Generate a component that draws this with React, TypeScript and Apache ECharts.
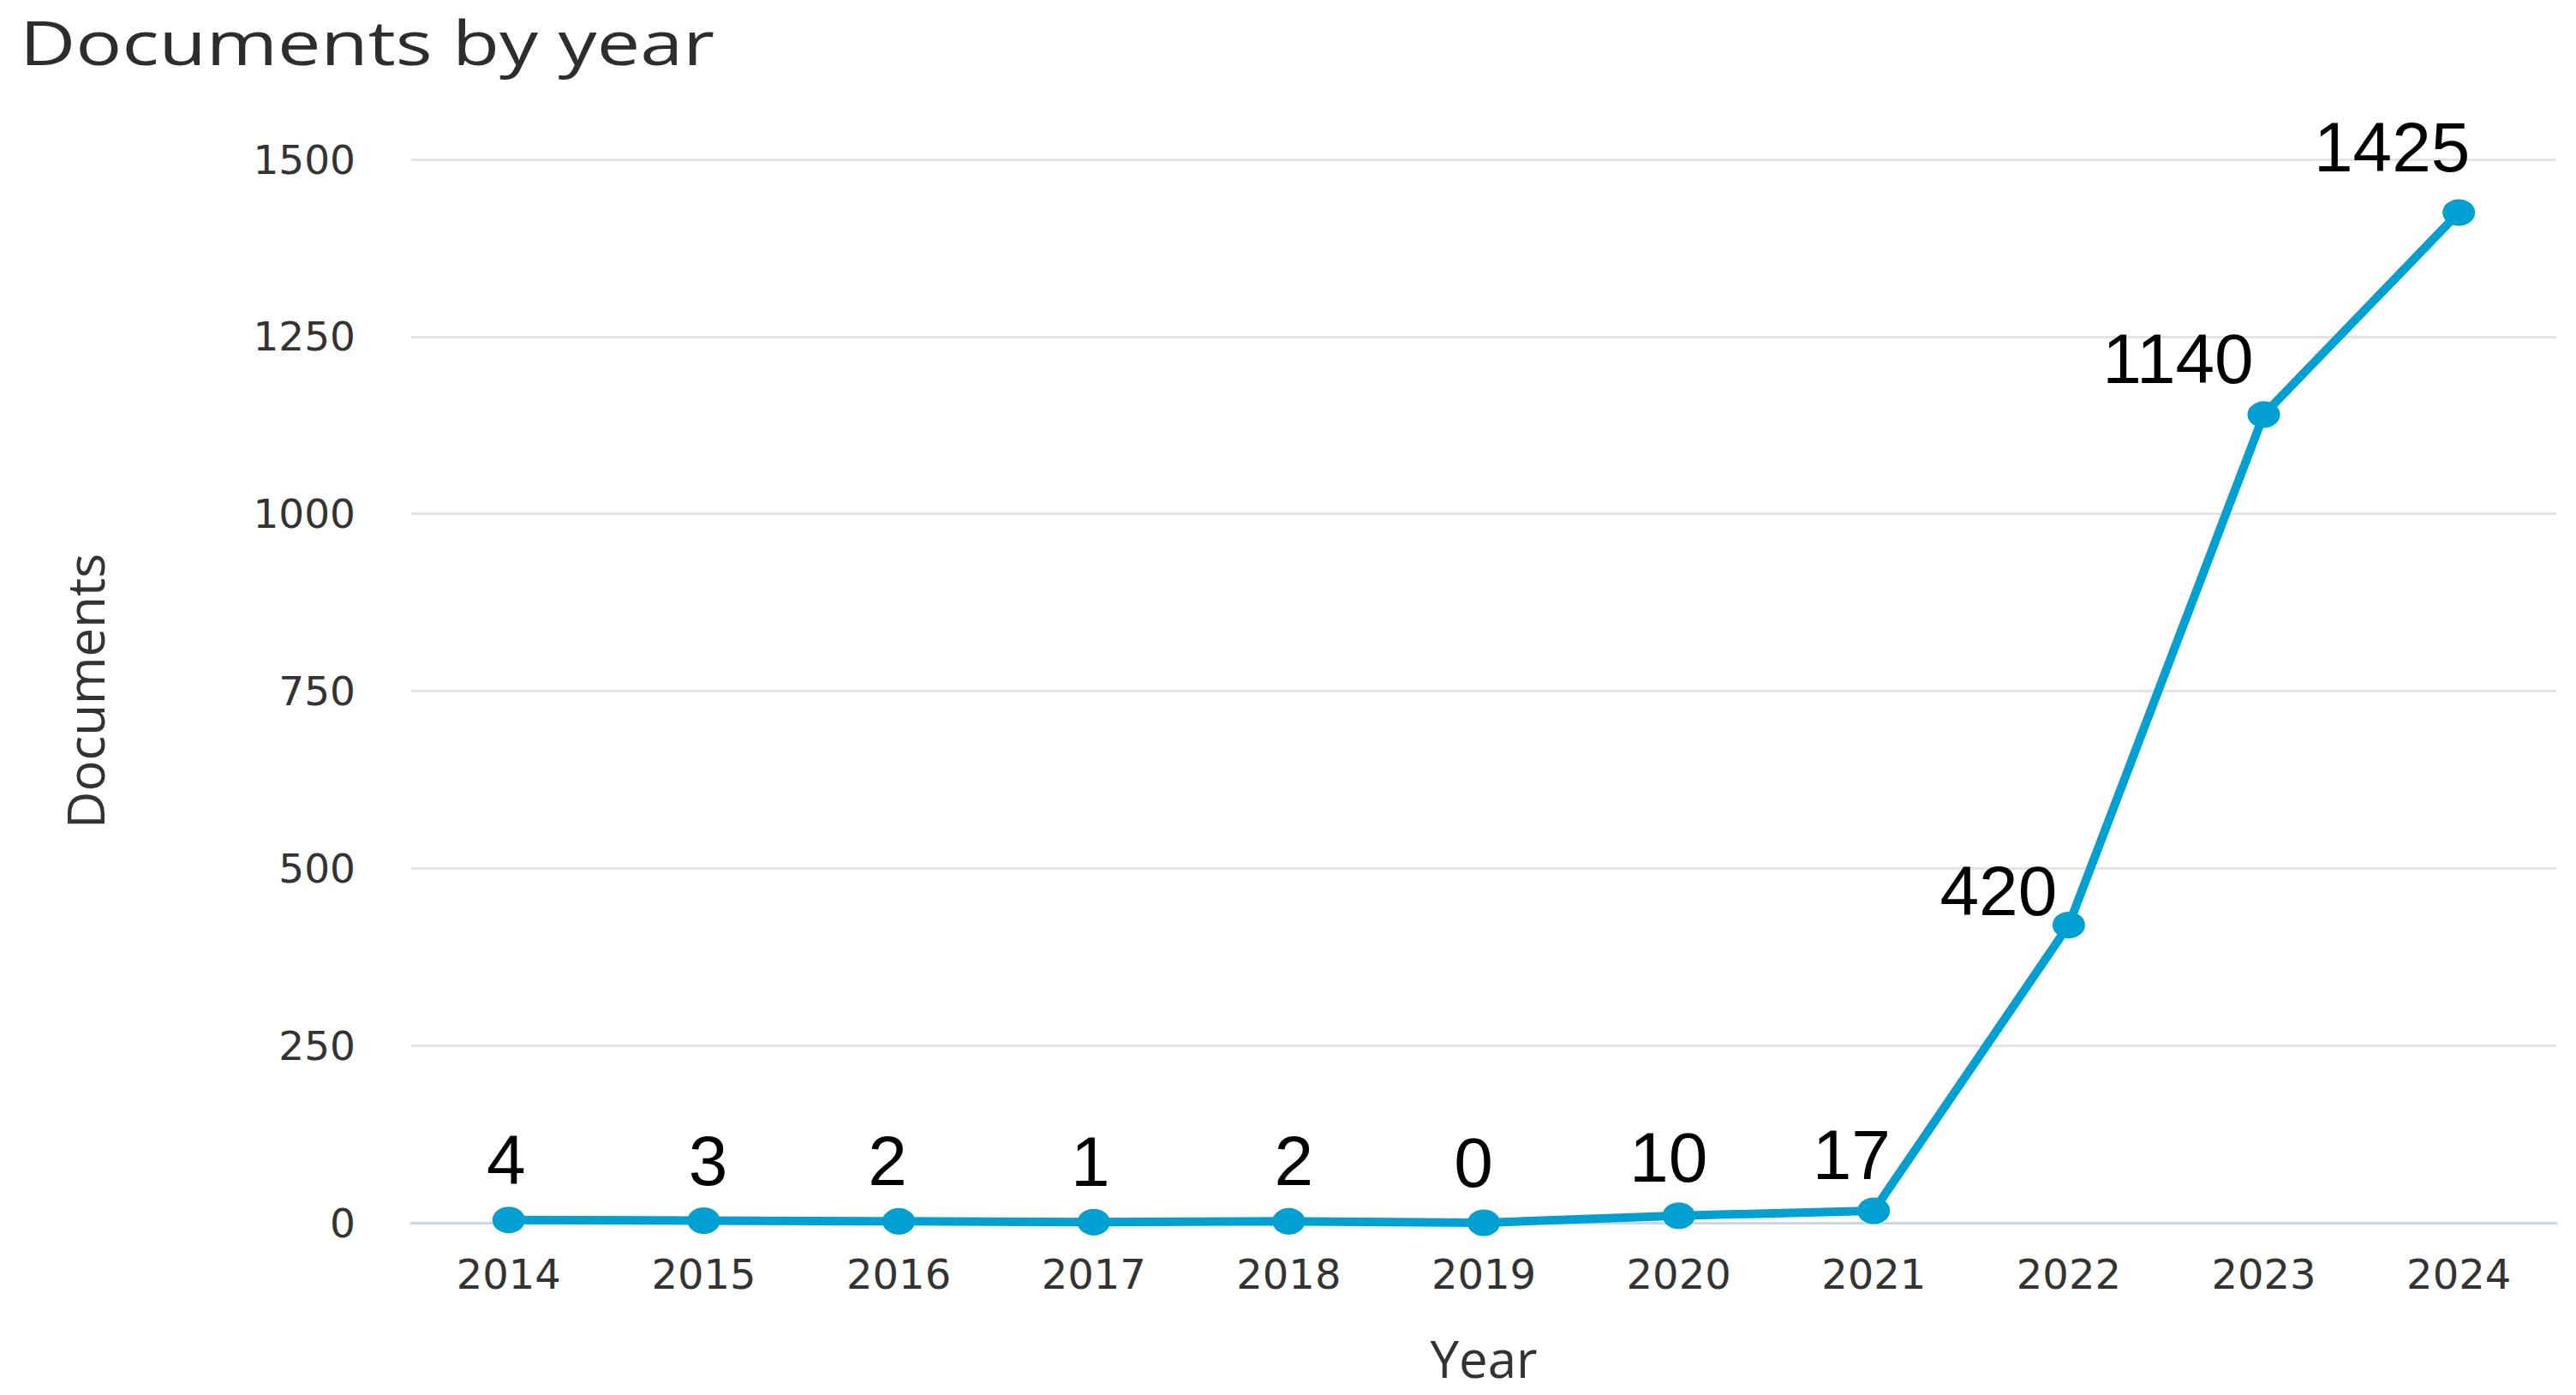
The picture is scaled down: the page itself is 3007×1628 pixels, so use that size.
import React, { useEffect, useRef } from "react";
import * as echarts from "echarts";

const years: string[] = ["2014", "2015", "2016", "2017", "2018", "2019", "2020", "2021", "2022", "2023", "2024"];
const documents: number[] = [4, 3, 2, 1, 2, 0, 10, 17, 420, 1140, 1425];
const yTicks: number[] = [0, 250, 500, 750, 1000, 1250, 1500];
const labelOffsets: number[][] = [
  [-3, 0], [5, 0], [-13, 0], [-4, 0], [6, 0], [-12, 0], [-12, 2], [-26, 5], [-82, 30], [-100, 5], [-78, -6],
];

const titleText = "Documents by year";
const xName = "Year";
const yName = "Documents";

export default function App() {
  const ref = useRef<HTMLDivElement>(null);
  useEffect(() => {
    document.body.style.margin = "0";
    if (!ref.current) return;
    const chart = echarts.init(ref.current, undefined, { renderer: "svg" });
    const option: any = {
      animation: false,
      backgroundColor: "#ffffff",
      graphic: [
        {
          type: "text",
          left: 23,
          top: 12,
          scaleX: 1.25,
          style: {
            text: titleText,
            font: "72px 'Open Sans'",
            fill: "#2d2d2d",
          },
        },
      ],
      grid: { left: 480, right: 23, top: 186, bottom: 201, containLabel: false },
      xAxis: {
        type: "category",
        data: years,
        boundaryGap: true,
        name: xName,
        nameLocation: "middle",
        nameGap: 128,
        nameTextStyle: { fontFamily: "Open Sans", fontSize: 60, color: "#333333" },
        axisLine: { show: true, lineStyle: { color: "#ccd6eb", width: 3 } },
        axisTick: { show: false },
        axisLabel: { fontFamily: "DejaVu Sans", fontSize: 48, color: "#333333", margin: 36 },
        splitLine: { show: false },
      },
      yAxis: {
        type: "value",
        min: yTicks[0],
        max: yTicks[yTicks.length - 1],
        interval: yTicks[1] - yTicks[0],
        name: yName,
        nameLocation: "middle",
        nameRotate: 90,
        nameGap: 351,
        nameTextStyle: { fontFamily: "Open Sans", fontSize: 60, color: "#333333" },
        axisLine: { show: false },
        axisTick: { show: false },
        axisLabel: {
          fontFamily: "DejaVu Sans",
          fontSize: 47,
          color: "#333333",
          margin: 65,
          formatter: (v: number) => String(v),
        },
        splitLine: { show: true, lineStyle: { color: "#e4e4e4", width: 3 } },
      },
      series: [
        {
          type: "line",
          data: documents.map((v, i) => ({
            value: v,
            label: { offset: labelOffsets[i] },
          })),
          symbol: "circle",
          symbolSize: [38, 31],
          showSymbol: true,
          lineStyle: { color: "#00a0d2", width: 10 },
          itemStyle: { color: "#00a0d2" },
          label: {
            show: true,
            position: "top",
            distance: 14,
            fontFamily: "Liberation Sans",
            fontSize: 82,
            color: "#000000",
          },
          z: 5,
        },
      ],
    };
    chart.setOption(option);
    return () => chart.dispose();
  }, []);
  return <div ref={ref} style={{ width: 3007, height: 1628, position: "absolute", left: 0, top: 0 }} />;
}
